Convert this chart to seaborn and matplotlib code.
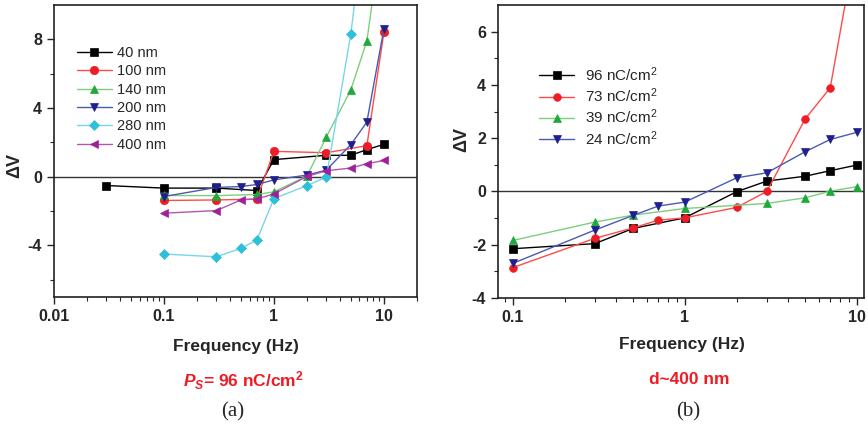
import numpy as np
import pandas as pd
import matplotlib
matplotlib.use("Agg")
import matplotlib.pyplot as plt
import seaborn as sns

# ---------------- data (a) ----------------
freq_40 = [0.03, 0.1, 0.3, 0.7, 1, 3, 5, 7, 10]
dv_40 = [-0.51, -0.66, -0.66, -0.8, 1.0, 1.25, 1.25, 1.58, 1.89]
freq_100 = [0.1, 0.3, 0.7, 1, 3, 7, 10]
dv_100 = [-1.38, -1.35, -1.3, 1.48, 1.4, 1.81, 8.4]
freq_140 = [0.1, 0.3, 0.7, 1, 2, 3, 5, 7, 10]
dv_140 = [-1.09, -1.1, -1.03, -0.88, 0.05, 2.32, 5.05, 7.9, 15.0]
freq_200 = [0.1, 0.3, 0.5, 0.7, 1, 2, 3, 5, 7, 10]
dv_200 = [-1.15, -0.62, -0.57, -0.45, -0.18, 0.1, 0.39, 1.87, 3.18, 8.6]
freq_280 = [0.1, 0.3, 0.5, 0.7, 1, 2, 3, 5, 7]
dv_280 = [-4.5, -4.66, -4.17, -3.68, -1.27, -0.51, -0.02, 8.29, 16.0]
freq_400 = [0.1, 0.3, 0.5, 0.7, 1, 2, 3, 5, 7, 10]
dv_400 = [-2.12, -1.97, -1.35, -1.29, -1.0, 0.02, 0.35, 0.51, 0.76, 0.95]
labels_a = ["40 nm", "100 nm", "140 nm", "200 nm", "280 nm", "400 nm"]

# ---------------- data (b) ----------------
freq_96 = [0.1, 0.3, 0.5, 1, 2, 3, 5, 7, 10]
dv_96 = [-2.15, -1.96, -1.39, -0.99, -0.01, 0.39, 0.57, 0.78, 0.99]
freq_73 = [0.1, 0.3, 0.5, 0.7, 1, 2, 3, 5, 7, 10]
dv_73 = [-2.86, -1.76, -1.37, -1.08, -0.99, -0.6, 0.0, 2.72, 3.89, 9.5]
freq_39 = [0.1, 0.3, 0.5, 1, 3, 5, 7, 10]
dv_39 = [-1.84, -1.15, -0.89, -0.64, -0.45, -0.24, 0.01, 0.18]
freq_24 = [0.1, 0.3, 0.5, 0.7, 1, 2, 3, 5, 7, 10]
dv_24 = [-2.7, -1.45, -0.9, -0.55, -0.4, 0.51, 0.7, 1.49, 1.95, 2.22]
labels_b = ["96 nC/cm$^2$", "73 nC/cm$^2$", "39 nC/cm$^2$", "24 nC/cm$^2$"]

sns.set_style("ticks")
plt.rcParams["font.family"] = ["Liberation Sans", "DejaVu Sans"]
plt.rcParams["mathtext.fontset"] = "custom"
plt.rcParams["mathtext.rm"] = "Liberation Sans"
plt.rcParams["mathtext.it"] = "Liberation Sans:italic:bold"
plt.rcParams["mathtext.bf"] = "Liberation Sans:bold"
plt.rcParams["axes.unicode_minus"] = False

fig = plt.figure(figsize=(8.68, 4.29), dpi=100)
axA = fig.add_axes([0.0622, 0.3077, 0.4182, 0.6806])
axB = fig.add_axes([0.5737, 0.3054, 0.4217, 0.6830])

# style: (marker, marker color, line color)
styles_a = [("s", "#000000", "#000000"),
            ("o", "#ee1c24", "#ff4a4a"),
            ("^", "#1fa83c", "#7ccf7c"),
            ("v", "#1f1f8f", "#4a5ab0"),
            ("D", "#2ec0d8", "#7ad4ea"),
            ("<", "#a0209c", "#b058b0")]
styles_b = [("s", "#000000", "#000000"),
            ("o", "#ee1c24", "#ff4a4a"),
            ("^", "#1fa83c", "#7ccf7c"),
            ("v", "#1f1f8f", "#4a5ab0")]

series_a = [(freq_40, dv_40), (freq_100, dv_100), (freq_140, dv_140),
            (freq_200, dv_200), (freq_280, dv_280), (freq_400, dv_400)]
series_b = [(freq_96, dv_96), (freq_73, dv_73), (freq_39, dv_39), (freq_24, dv_24)]


def draw(ax, series, styles, labels, msize):
    for (fx, fy), (mk, mc, lc), lab in zip(series, styles, labels):
        df = pd.DataFrame({"f": fx, "v": fy})
        ms = msize * (0.85 if mk == "D" else 1.0)
        sns.lineplot(data=df, x="f", y="v", ax=ax, color=lc, lw=1.0,
                     marker=mk, markersize=ms, markerfacecolor=mc,
                     markeredgecolor=mc, markeredgewidth=0.5, label=lab,
                     sort=False, estimator=None)


draw(axA, series_a, styles_a, labels_a, 6)
draw(axB, series_b, styles_b, labels_b, 5.5)

for ax in (axA, axB):
    ax.set_xscale("log")
    ax.axhline(0, color="#333333", lw=1.0, zorder=0)
    for s in ax.spines.values():
        s.set_linewidth(1.2)
        s.set_color("#222222")
    ax.tick_params(axis="both", which="major", length=5, width=1.0, labelsize=11)
    ax.tick_params(axis="both", which="minor", length=3, width=0.8)

# panel (a)
axA.set_xlim(0.01, 20)
axA.set_ylim(-7, 10)
axA.set_yticks([-4, 0, 4, 8])
axA.set_yticks([-6, -2, 2, 6], minor=True)
axA.set_xticks([0.01, 0.1, 1, 10])
axA.set_xticklabels(["0.01", "0.1", "1", "10"])
# panel (b)
axB.set_xlim(0.082, 11)
axB.set_ylim(-4, 7)
axB.set_yticks([-4, -2, 0, 2, 4, 6])
axB.set_yticks([-3, -1, 1, 3, 5], minor=True)
axB.set_xticks([0.1, 1, 10])
axB.set_xticklabels(["0.1", "1", "10"])

for ax in (axA, axB):
    for t in ax.get_xticklabels() + ax.get_yticklabels():
        t.set_fontweight("bold")
        t.set_fontsize(11.5)
    ax.set_xlabel("")
    ax.set_ylabel("")

# legends
legA = axA.legend(loc="upper left", bbox_to_anchor=(0.063, 0.86), frameon=False,
                  fontsize=10.5, handlelength=2.4, handletextpad=0.35,
                  labelspacing=0.3, borderpad=0, borderaxespad=0)
legB = axB.legend(loc="upper left", bbox_to_anchor=(0.112, 0.795), frameon=False,
                  fontsize=11, handlelength=2.3, handletextpad=0.7,
                  labelspacing=0.18, borderpad=0, borderaxespad=0)

# axis labels
fig.text(15 / 868, 1 - 165 / 429, "ΔV", rotation=90, ha="center", va="center",
         fontsize=13, fontweight="bold")
fig.text(462 / 868, 1 - 139 / 429, "ΔV", rotation=90, ha="center", va="center",
         fontsize=13, fontweight="bold")
fig.text(236 / 868, 1 - 347 / 429, "Frequency (Hz)", ha="center", va="center",
         fontsize=12.5, fontweight="bold")
fig.text(682 / 868, 1 - 345 / 429, "Frequency (Hz)", ha="center", va="center",
         fontsize=12.5, fontweight="bold")

# captions
fig.text(243 / 868, 1 - 381 / 429, r"$P_S$= 96 nC/cm$^\mathbf{2}$", ha="center", va="center",
         fontsize=12.5, fontweight="bold", color="#ee1c24")
fig.text(689 / 868, 1 - 380 / 429, "d~400 nm", ha="center", va="center",
         fontsize=12.5, fontweight="bold", color="#ee1c24")
fig.text(233 / 868, 1 - 412 / 429, "(a)", ha="center", va="center",
         fontsize=15, family=["Liberation Serif", "DejaVu Serif"])
fig.text(688 / 868, 1 - 412 / 429, "(b)", ha="center", va="center",
         fontsize=15, family=["Liberation Serif", "DejaVu Serif"])

fig.savefig("out.png", dpi=100)
